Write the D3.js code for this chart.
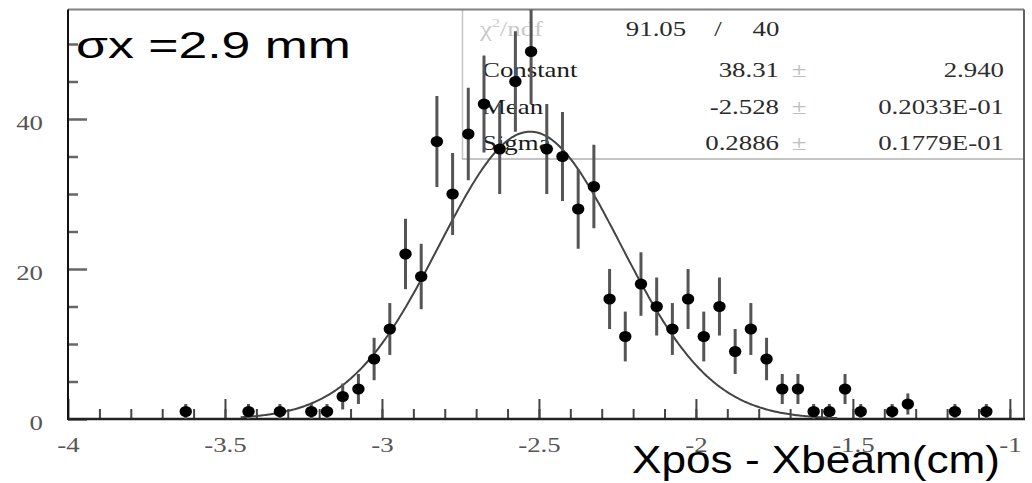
<!DOCTYPE html>
<html>
<head>
<meta charset="utf-8">
<script src="https://cdn.jsdelivr.net/npm/d3@7"></script>
<style>
  body { margin: 0; background: #fff; }
  svg { display: block; }
</style>
</head>
<body>
<svg width="1032" height="483"></svg>
<script>
// histogram bins (bin centre, entries, error)
const binCenters = [-3.625, -3.425, -3.325, -3.225, -3.175, -3.125, -3.075, -3.025, -2.975, -2.925,
  -2.875, -2.825, -2.775, -2.725, -2.675, -2.625, -2.575, -2.525, -2.475, -2.425,
  -2.375, -2.325, -2.275, -2.225, -2.175, -2.125, -2.075, -2.025, -1.975, -1.925,
  -1.875, -1.825, -1.775, -1.725, -1.675, -1.625, -1.575, -1.525, -1.475, -1.375,
  -1.325, -1.175, -1.075];
const counts = [1, 1, 1, 1, 1, 3, 4, 8, 12, 22,
  19, 37, 30, 38, 42, 36, 45, 49, 36, 35,
  28, 31, 16, 11, 18, 15, 12, 16, 11, 15,
  9, 12, 8, 4, 4, 1, 1, 4, 1, 1,
  2, 1, 1];
const errors = [1, 1, 1, 1, 1, 1.73, 2, 2.83, 3.46, 4.69,
  4.36, 6.08, 5.48, 6.16, 6.48, 6, 6.71, 7, 6, 5.92,
  5.29, 5.57, 4, 3.32, 4.24, 3.87, 3.46, 4, 3.32, 3.87,
  3, 3.46, 2.83, 2, 2, 1, 1, 2, 1, 1,
  1.41, 1, 1];

// gaussian fit results
const fitNames = ['Constant', 'Mean', 'Sigma'];
const fitValues = ['38.31', '-2.528', '0.2886'];
const fitErrors = ['2.940', '0.2033E-01', '0.1779E-01'];
const fitConstant = 38.31, fitMean = -2.528, fitSigma = 0.2886;
const fitRange = [-3.45, -1.55];
const chi2 = '91.05', ndf = '40';

const xMajor = [-4, -3.5, -3, -2.5, -2, -1.5, -1];
const xMinor = d3.range(-39, -9).map(d => d / 10);
const yMajor = [0, 20, 40];
const yMinor = [5, 10, 15, 25, 30, 35, 45, 50];

const fLeft = 68, fRight = 1024, fTop = 9.5, fBottom = 419;
const stretch = 1.22;
const serif = '"Liberation Serif", "Times New Roman", serif';

const svg = d3.select('svg');

const x = d3.scaleLinear().domain([-4, -0.955]).range([fLeft, fRight]);
const y = d3.scaleLinear().domain([0, 54.6]).range([fBottom, fTop]);

// stats box
svg.append('line').attr('x1', 462.5).attr('x2', 462.5).attr('y1', fTop).attr('y2', 159)
  .attr('stroke', '#c4c4c4').attr('stroke-width', 1.5);
svg.append('line').attr('x1', 462).attr('x2', fRight).attr('y1', 159).attr('y2', 159)
  .attr('stroke', '#b0b0b0').attr('stroke-width', 1.5);

function label(txt, px, py, anchor, color) {
  return svg.append('text')
    .attr('transform', 'translate(' + px + ',' + py + ') scale(' + stretch + ',1)')
    .attr('text-anchor', anchor)
    .attr('font-family', serif)
    .attr('font-size', 22)
    .attr('fill', color)
    .text(txt);
}

const chiText = label('\u03C7', 480, 36, 'start', '#cacaca');
chiText.append('tspan').attr('font-size', 13).attr('dy', -9).text('2');
chiText.append('tspan').attr('dy', 9).text('/ndf');
label(chi2, 656, 36, 'middle', '#2a2a2a');
label('/', 718, 36, 'middle', '#2a2a2a');
label(ndf, 766, 36, 'middle', '#2a2a2a');

fitNames.forEach((n, i) => {
  const by = 77 + i * 36.5;
  label(n, 482, by, 'start', '#1a1a1a');
  label(fitValues[i], 779, by, 'end', '#2a2a2a');
  label('\u00B1', 799, by, 'middle', '#bdbdbd');
  label(fitErrors[i], 1004, by, 'end', '#2e2e2e');
});

// axes
const xAxis = svg.append('g').attr('transform', 'translate(0,' + fBottom + ')')
  .call(d3.axisBottom(x).tickValues(xMajor).tickSize(-20).tickFormat(d => d.toString()));
const xAxisMinor = svg.append('g').attr('transform', 'translate(0,' + fBottom + ')')
  .call(d3.axisBottom(x).tickValues(xMinor).tickSize(-10).tickFormat(''));
const yAxis = svg.append('g').attr('transform', 'translate(' + fLeft + ',0)')
  .call(d3.axisLeft(y).tickValues(yMajor).tickSize(-19).tickFormat(d => d.toString()));
const yAxisMinor = svg.append('g').attr('transform', 'translate(' + fLeft + ',0)')
  .call(d3.axisLeft(y).tickValues(yMinor).tickSize(-10).tickFormat(''));

[xAxis, xAxisMinor, yAxis, yAxisMinor].forEach(g => g.select('.domain').remove());
xAxis.selectAll('line').attr('stroke', '#444').attr('stroke-width', 2);
xAxisMinor.selectAll('line').attr('stroke', '#444').attr('stroke-width', 2);
yAxis.selectAll('line').attr('stroke', '#666').attr('stroke-width', 2.5);
yAxisMinor.selectAll('line').attr('stroke', '#666').attr('stroke-width', 2.5);

xAxis.selectAll('text')
  .attr('y', 33).attr('dy', 0)
  .attr('transform', 'scale(' + stretch + ',1)')
  .attr('font-family', serif).attr('font-size', 22).attr('fill', '#555');
yAxis.selectAll('text')
  .attr('x', -25 / stretch).attr('dy', 10.5)
  .attr('transform', 'scale(' + stretch + ',1)')
  .attr('font-family', serif).attr('font-size', 22).attr('fill', '#555');

// frame
svg.append('line').attr('x1', fLeft).attr('x2', fRight).attr('y1', fTop).attr('y2', fTop)
  .attr('stroke', '#808080').attr('stroke-width', 2);
svg.append('line').attr('x1', fRight).attr('x2', fRight).attr('y1', fTop).attr('y2', fBottom)
  .attr('stroke', '#606060').attr('stroke-width', 2);
svg.append('line').attr('x1', fLeft).attr('x2', fLeft).attr('y1', fTop).attr('y2', fBottom + 1)
  .attr('stroke', '#111').attr('stroke-width', 2);
svg.append('line').attr('x1', fLeft).attr('x2', fRight + 1).attr('y1', fBottom).attr('y2', fBottom)
  .attr('stroke', '#222').attr('stroke-width', 2.5);

// data
svg.append('clipPath').attr('id', 'frame').append('rect')
  .attr('x', fLeft).attr('y', fTop).attr('width', fRight - fLeft).attr('height', fBottom - fTop);
const plot = svg.append('g').attr('clip-path', 'url(#frame)');

const fitPts = d3.range(fitRange[0], fitRange[1] + 0.001, 0.005)
  .map(v => [v, fitConstant * Math.exp(-0.5 * Math.pow((v - fitMean) / fitSigma, 2))]);
plot.append('path')
  .attr('d', d3.line().x(d => x(d[0])).y(d => y(d[1]))(fitPts))
  .attr('fill', 'none').attr('stroke', '#444').attr('stroke-width', 2);

const bins = binCenters.map((c, i) => ({c: c, n: counts[i], e: errors[i]}));
plot.selectAll('.err').data(bins).enter().append('line')
  .attr('class', 'err')
  .attr('x1', d => x(d.c)).attr('x2', d => x(d.c))
  .attr('y1', d => y(d.n - d.e)).attr('y2', d => y(d.n + d.e))
  .attr('stroke', '#555').attr('stroke-width', 3);
plot.selectAll('.pt').data(bins).enter().append('ellipse')
  .attr('class', 'pt')
  .attr('cx', d => x(d.c)).attr('cy', d => y(d.n))
  .attr('rx', 6.2).attr('ry', 5.6).attr('fill', '#000');

// annotations
svg.append('text').attr('x', 76).attr('y', 58)
  .attr('font-family', '"Liberation Sans", Arial, sans-serif').attr('font-size', 37)
  .attr('textLength', 275).attr('lengthAdjust', 'spacingAndGlyphs')
  .text('\u03C3x =2.9 mm');
svg.append('text').attr('x', 632).attr('y', 473)
  .attr('font-family', '"Liberation Sans", Arial, sans-serif').attr('font-size', 39)
  .attr('textLength', 368).attr('lengthAdjust', 'spacingAndGlyphs')
  .text('Xpos - Xbeam(cm)');
</script>
</body>
</html>
